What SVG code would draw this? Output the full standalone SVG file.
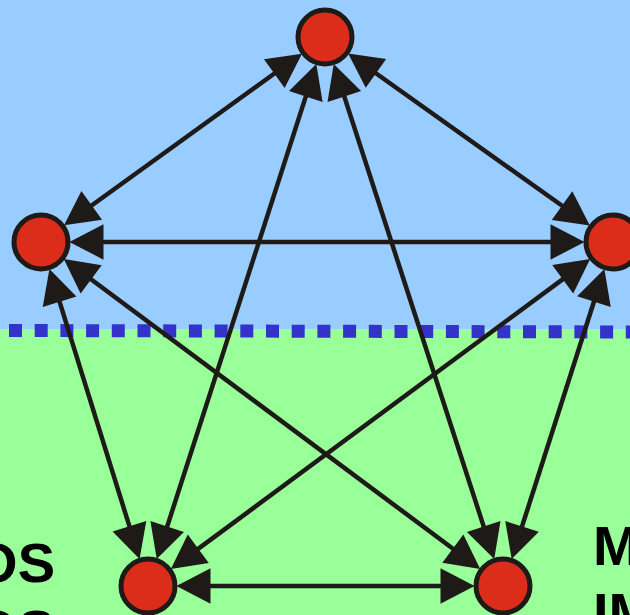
<svg xmlns="http://www.w3.org/2000/svg" width="630" height="615" viewBox="0 0 630 615">
<defs>
<style>
.node{fill:#dc2d1a;stroke:#1e1a18;stroke-width:5}
.edge{stroke:#1e1a18;stroke-width:4.5;fill:none;marker-start:url(#ah);marker-end:url(#ah)}
.lbl{font-family:"Liberation Sans",Arial,sans-serif;font-weight:bold;font-size:56px;fill:#000}
</style>
<marker id="ah" markerUnits="userSpaceOnUse" orient="auto-start-reverse" refX="0" refY="0" markerWidth="40" markerHeight="40" viewBox="-5 -16 34 32" overflow="visible">
<path d="M-3,-15 L26,0 L-3,15 z" fill="#1e1a18"/>
</marker>
</defs>
<rect x="0" y="0" width="630" height="329" fill="#99ccff"/>
<rect x="0" y="329" width="630" height="286" fill="#99ff99"/>
<line x1="9" y1="330.5" x2="630" y2="332" stroke="#3333cc" stroke-width="13" stroke-dasharray="13 12.7"/>
<g id="connectors">
<line class="edge" x1="277.16" y1="71.53" x2="88.84" y2="207.47"/>
<line class="edge" x1="373.07" y1="71.21" x2="564.93" y2="207.79"/>
<line class="edge" x1="306.89" y1="93.16" x2="166.11" y2="529.84"/>
<line class="edge" x1="343.20" y1="93.13" x2="484.80" y2="529.87"/>
<line class="edge" x1="100" y1="242" x2="554" y2="242"/>
<line class="edge" x1="58.52" y1="298.33" x2="130.48" y2="529.67"/>
<line class="edge" x1="88.32" y1="277.24" x2="455.68" y2="550.76"/>
<line class="edge" x1="565.57" y1="277.09" x2="195.43" y2="550.91"/>
<line class="edge" x1="595.03" y1="298.19" x2="520.97" y2="529.81"/>
<line class="edge" x1="207" y1="586" x2="444" y2="586"/>
</g>
<g id="node-top"><circle class="node" cx="325" cy="37" r="27"/></g>
<g id="node-left"><circle class="node" cx="41" cy="242" r="27"/></g>
<g id="node-right"><circle class="node" cx="613" cy="242" r="27"/></g>
<g id="node-bottom-left"><circle class="node" cx="148" cy="586" r="27"/></g>
<g id="node-bottom-right"><circle class="node" cx="503" cy="586" r="27"/></g>
<g id="labels">
<text class="lbl" x="55" y="582" text-anchor="end">OS</text>
<text class="lbl" x="55" y="649" text-anchor="end">OS</text>
<text class="lbl" x="593" y="565">M</text>
<text class="lbl" x="593" y="632">IM</text>
</g>
</svg>
